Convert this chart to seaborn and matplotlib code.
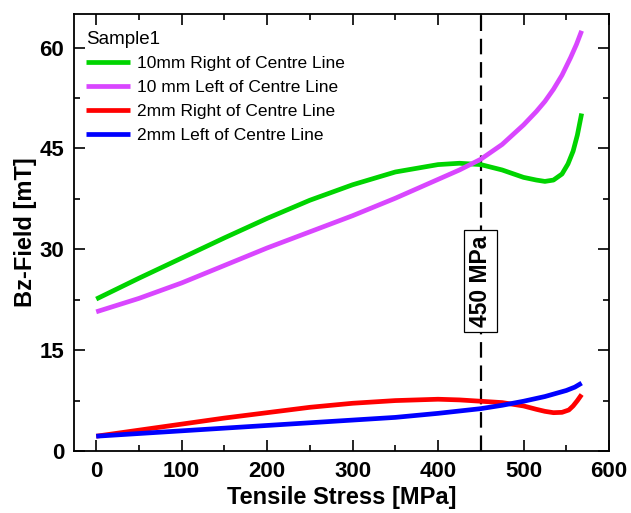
import matplotlib
matplotlib.use("Agg")
import matplotlib.pyplot as plt
from matplotlib.ticker import MultipleLocator
import numpy as np
import pandas as pd
import seaborn as sns

# Tensile stress readings [MPa] and Bz-field [mT] for each sensor position
stress_g = [0, 50, 100, 150, 200, 250, 300, 350, 400, 425, 450, 475, 500, 515, 525, 535, 545, 552, 558, 563, 568]
right10 = [22.6, 25.7, 28.7, 31.7, 34.6, 37.3, 39.6, 41.5, 42.6, 42.8, 42.6, 41.8, 40.7, 40.3, 40.1, 40.3, 41.2, 42.7, 44.6, 47.0, 50.2]

stress_p = [0, 50, 100, 150, 200, 250, 300, 350, 400, 425, 450, 475, 500, 515, 525, 535, 545, 555, 562, 568]
left10 = [20.7, 22.7, 25.0, 27.6, 30.2, 32.6, 35.0, 37.6, 40.4, 41.8, 43.4, 45.6, 48.5, 50.5, 52.0, 53.8, 55.9, 58.5, 60.5, 62.5]

stress_r = [0, 50, 100, 150, 200, 250, 300, 350, 400, 425, 450, 475, 500, 515, 525, 535, 545, 553, 558, 563, 568]
right2 = [2.2, 3.1, 4.0, 4.9, 5.7, 6.5, 7.1, 7.5, 7.7, 7.6, 7.4, 7.2, 6.7, 6.2, 5.9, 5.7, 5.75, 6.1, 6.7, 7.5, 8.4]

stress_b = [0, 50, 100, 150, 200, 250, 300, 350, 400, 450, 475, 500, 525, 550, 560, 568]
left2 = [2.2, 2.6, 3.0, 3.4, 3.8, 4.2, 4.6, 5.0, 5.6, 6.3, 6.8, 7.4, 8.1, 9.0, 9.5, 10.1]

series_names = ["10mm Right of Centre Line", "10 mm Left of Centre Line",
                "2mm Right of Centre Line", "2mm Left of Centre Line"]
series_colors = ["#00d400", "#d946ff", "#ff0000", "#0000ff"]
marker_stress = 450

frames = []
for name, xs, ys in zip(series_names,
                        [stress_g, stress_p, stress_r, stress_b],
                        [right10, left10, right2, left2]):
    frames.append(pd.DataFrame({"stress": xs, "bz": ys, "position": name}))
df = pd.concat(frames, ignore_index=True)

sns.set_style("white")
plt.rcParams["font.family"] = ["Liberation Sans", "DejaVu Sans"]
plt.rcParams["text.color"] = "black"
plt.rcParams["axes.labelcolor"] = "black"
plt.rcParams["xtick.color"] = "black"
plt.rcParams["ytick.color"] = "black"

fig = plt.figure(figsize=(6.31, 5.13), dpi=100)
ax = fig.add_axes([74 / 631, 1 - 451 / 513, (609 - 74) / 631, (451 - 14) / 513])

sns.lineplot(data=df, x="stress", y="bz", hue="position", hue_order=series_names,
             palette=series_colors, estimator=None, sort=False, linewidth=3.4, ax=ax)
for ln in ax.get_lines():
    ln.set_solid_joinstyle("round")
    ln.set_solid_capstyle("butt")

ax.axvline(marker_stress, color="black", linewidth=1.6, linestyle=(0, (7, 3.5)), zorder=1)
ax.text(marker_stress, 25.3, f"{marker_stress} MPa", rotation=90, ha="center", va="center",
        fontsize=16.5, fontweight="bold", color="black",
        bbox=dict(boxstyle="square,pad=0.22", facecolor="white", edgecolor="black", linewidth=0.9),
        zorder=3)

ax.set_xlim(-26, 600)
ax.set_ylim(0, 65)
ax.xaxis.set_major_locator(MultipleLocator(100))
ax.xaxis.set_minor_locator(MultipleLocator(50))
ax.yaxis.set_major_locator(MultipleLocator(15))
ax.yaxis.set_minor_locator(MultipleLocator(7.5))
ax.tick_params(which="both", direction="in", top=True, right=True, bottom=True, left=True,
               width=1.2, color="black", labelcolor="black")
ax.tick_params(which="major", length=8, labelsize=16, pad=7)
ax.tick_params(which="minor", length=4)
for lab in ax.get_xticklabels() + ax.get_yticklabels():
    lab.set_fontweight("bold")
for sp in ax.spines.values():
    sp.set_visible(True)
    sp.set_color("black")
    sp.set_linewidth(1.3)

ax.set_xlabel("Tensile Stress [MPa]", fontsize=17, fontweight="bold", labelpad=3)
ax.set_ylabel("Bz-Field [mT]", fontsize=17, fontweight="bold", labelpad=2)

leg = ax.legend(loc="upper left", bbox_to_anchor=(0.0, 0.99), frameon=False, title="Sample1",
                fontsize=12.5, title_fontsize=13.5, handlelength=2.5, handletextpad=0.45,
                labelspacing=0.5, borderaxespad=0.3, alignment="left")
for h in leg.get_lines():
    h.set_linewidth(3.4)
for t in leg.get_texts():
    t.set_color("black")
leg.get_title().set_color("black")

fig.savefig("out.png", dpi=100)
